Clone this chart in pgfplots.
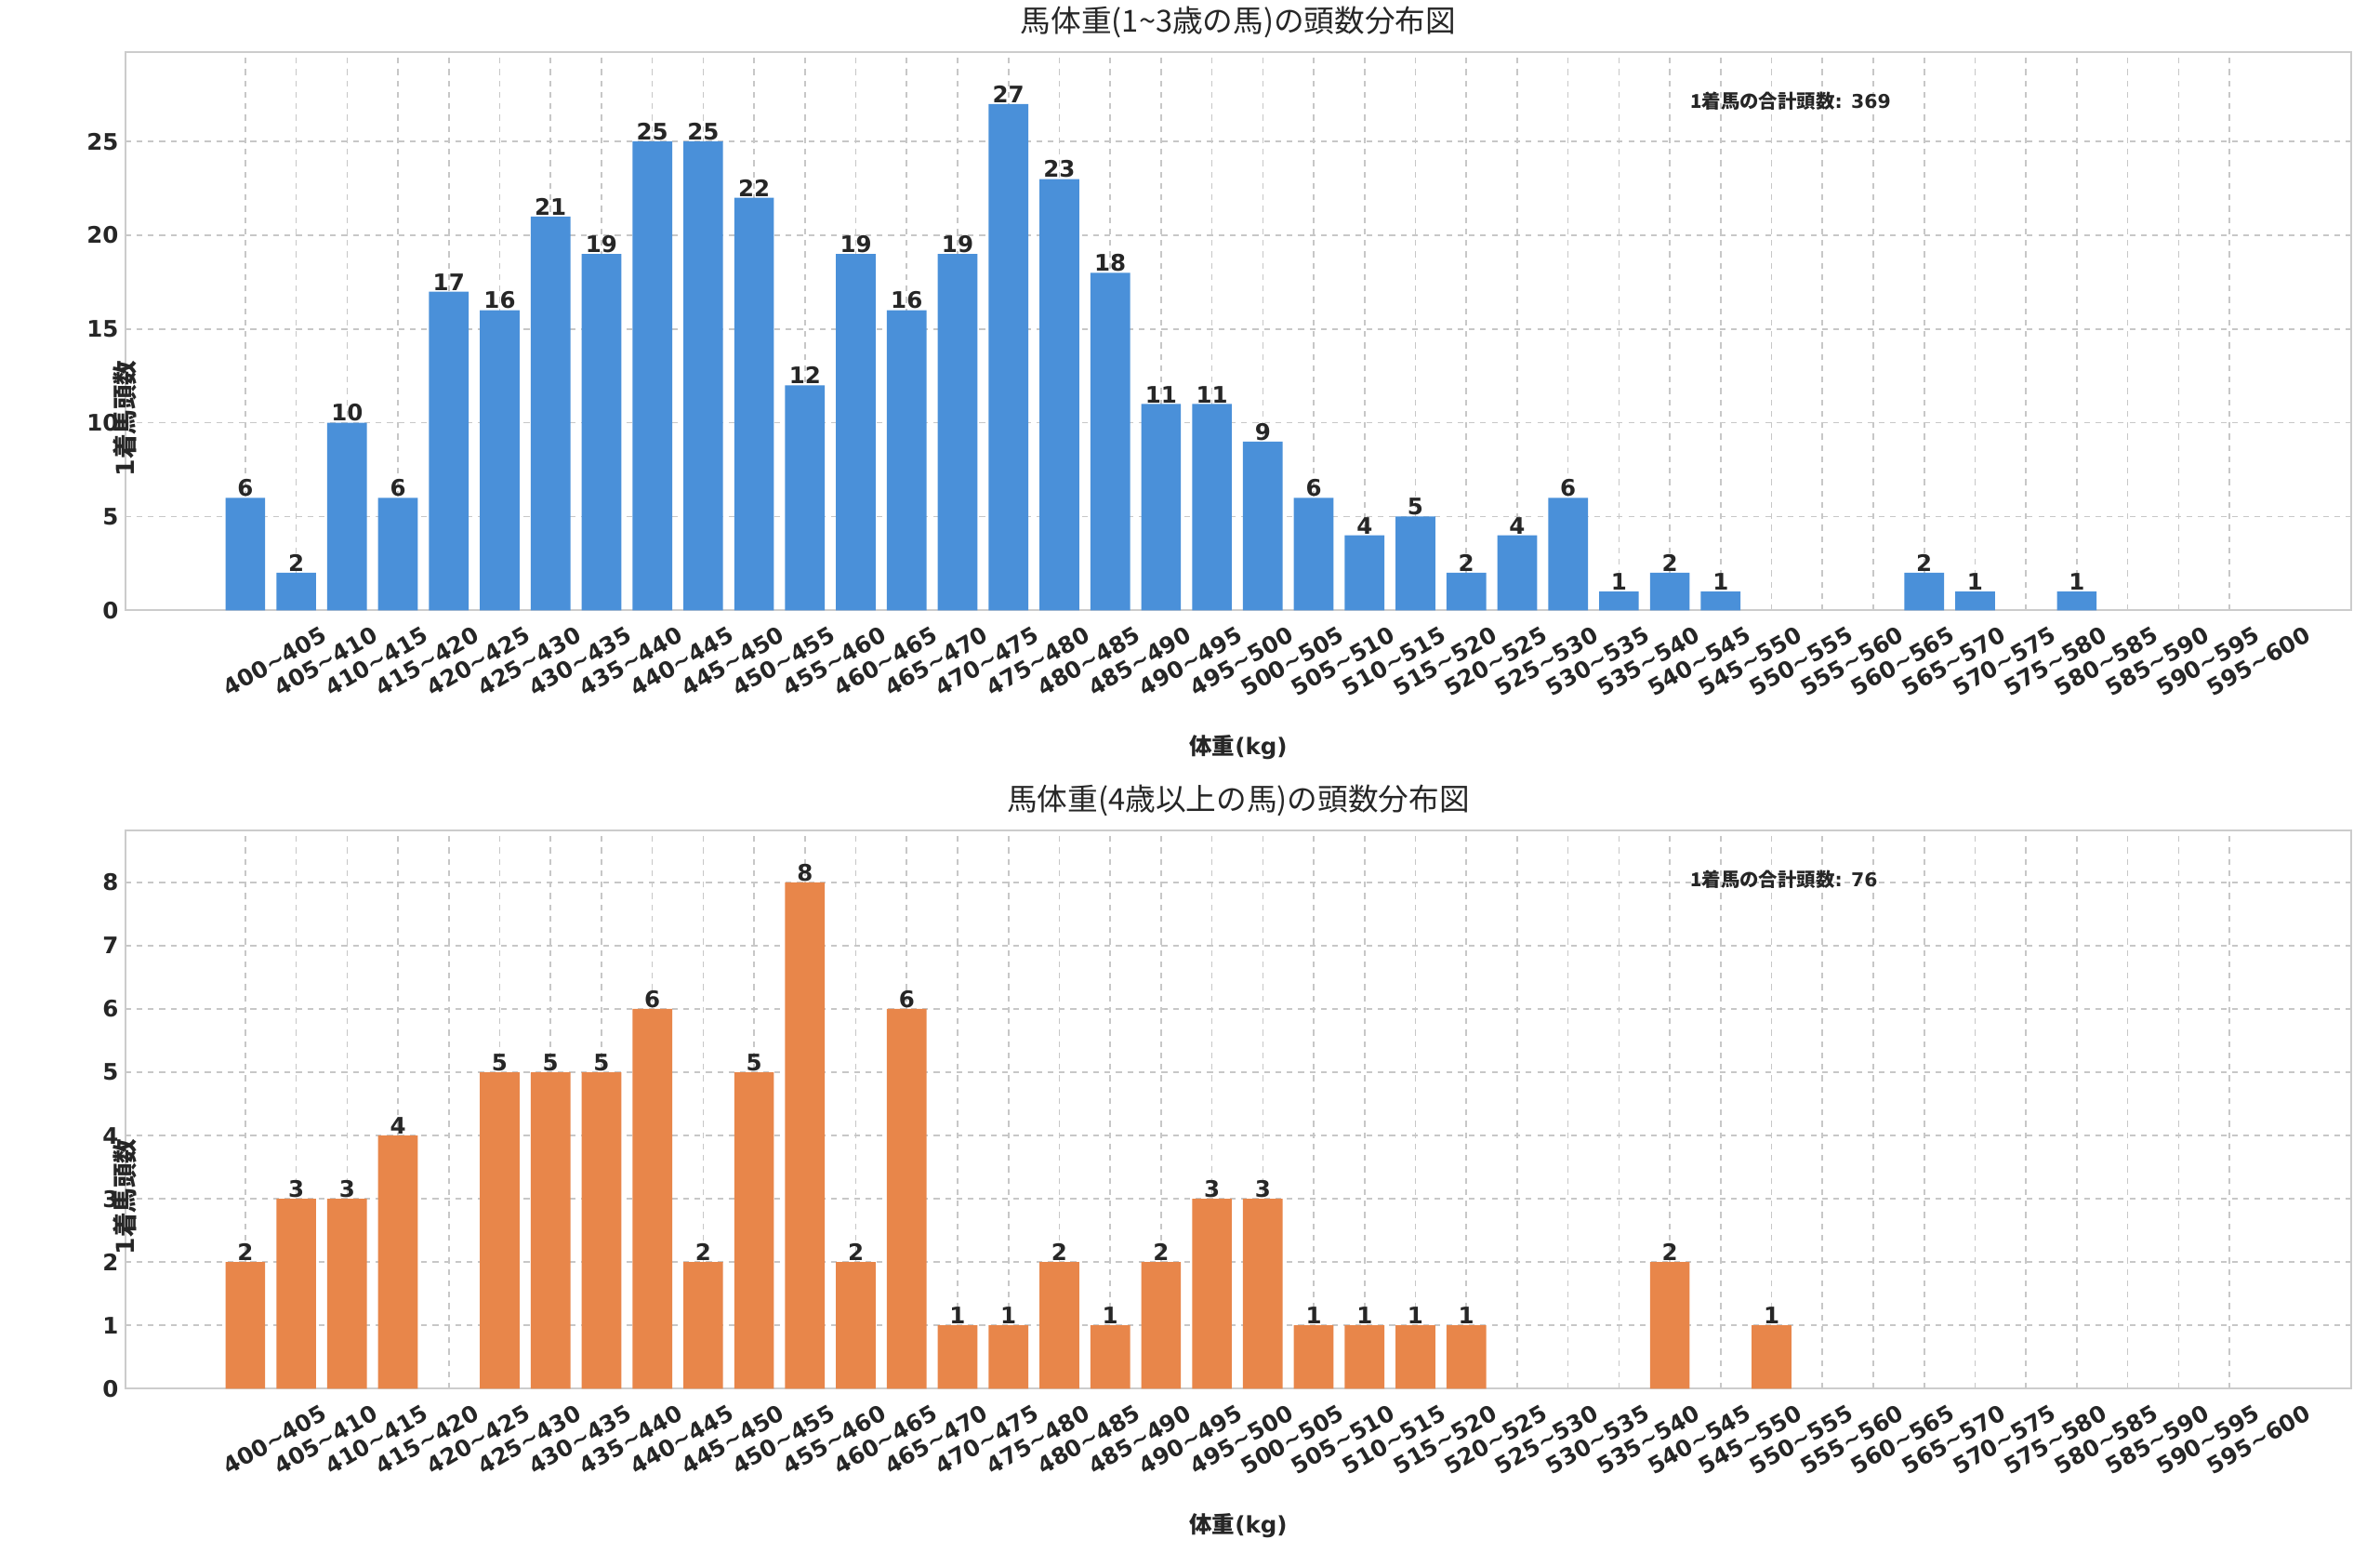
\documentclass[border=0pt]{standalone}
\usepackage{pgfplots}
\pgfplotsset{compat=1.18}
\usepackage{fontspec}
\setmainfont{DejaVu Sans}
\newfontfamily\cjk{Noto Sans CJK JP}
\definecolor{cblue}{HTML}{4A90D9}
\definecolor{corange}{HTML}{E8864A}
\definecolor{tx}{HTML}{262626}
\begin{document}
\begin{tikzpicture}
\pgfplotsset{
  common/.style={
    width=1173pt, height=294pt, scale only axis, clip=false,
    xmin=-2.36, xmax=41.4, ymin=0,
    xtick={0,...,39},
    xticklabels={400\~{}405,405\~{}410,410\~{}415,415\~{}420,420\~{}425,425\~{}430,430\~{}435,435\~{}440,440\~{}445,445\~{}450,450\~{}455,455\~{}460,460\~{}465,465\~{}470,470\~{}475,475\~{}480,480\~{}485,485\~{}490,490\~{}495,495\~{}500,500\~{}505,505\~{}510,510\~{}515,515\~{}520,520\~{}525,525\~{}530,530\~{}535,535\~{}540,540\~{}545,545\~{}550,550\~{}555,555\~{}560,560\~{}565,565\~{}570,570\~{}575,575\~{}580,580\~{}585,585\~{}590,590\~{}595,595\~{}600},
    xticklabel style={rotate=30, anchor=center, yshift=-31pt, font=\fontsize{12}{12}\selectfont\bfseries, text=tx, inner sep=0pt},
    yticklabel style={font=\fontsize{12}{12}\selectfont\bfseries, text=tx},
    /pgf/number format/assume math mode=true,
    axis line style={draw=black!20, line width=1pt},
    major tick length=0pt,
    grid=both, major grid style={dashed, black!22, line width=0.8pt},
    xlabel={{\cjk\bfseries 体重}\textbf{(kg)}},
    every axis x label/.style={at={(axis description cs:0.5,0)}, anchor=north, yshift=-62pt, font=\fontsize{12}{12}\selectfont, text=tx},
    every axis y label/.style={at={(axis description cs:0,0.5)}, rotate=90, anchor=center, xshift=-46pt, font=\fontsize{13}{13}\selectfont, text=tx},
    title style={font=\fontsize{16}{16}\selectfont, text=tx, yshift=-2pt},
    ybar, bar width=0.78,
    nodes near coords,
    nodes near coords style={font=\fontsize{12}{12}\selectfont\bfseries, text=tx, inner sep=0.5pt},
  }
}
\begin{axis}[common, ymax=29.77, ytick={0,5,...,25},
  title={\cjk 馬体重(1\~{}3歳の馬)の頭数分布図},
  ylabel={\textbf{1}{\cjk\bfseries 着馬頭数}}]
\addplot[fill=cblue, draw=none] coordinates {
(0,6)(1,2)(2,10)(3,6)(4,17)(5,16)(6,21)(7,19)(8,25)(9,25)
(10,22)(11,12)(12,19)(13,16)(14,19)(15,27)(16,23)(17,18)(18,11)(19,11)
(20,9)(21,6)(22,4)(23,5)(24,2)(25,4)(26,6)(27,1)(28,2)(29,1)
(33,2)(34,1)(36,1)};
\node[anchor=west, font=\fontsize{10}{10}\selectfont\bfseries, text=tx] at (rel axis cs:0.70,0.913) {{\cjk\bfseries 1着馬の合計頭数}: 369};
\path (rel axis cs:0,1) ++(-66pt,0pt) (rel axis cs:1,1) ++(15pt,0pt);
\end{axis}
\begin{axis}[common, at={(0,-410pt)}, ymax=8.82, ytick={0,...,8},
  title={\cjk 馬体重(4歳以上の馬)の頭数分布図},
  ylabel={\textbf{1}{\cjk\bfseries 着馬頭数}}]
\addplot[fill=corange, draw=none] coordinates {
(0,2)(1,3)(2,3)(3,4)(5,5)(6,5)(7,5)(8,6)(9,2)
(10,5)(11,8)(12,2)(13,6)(14,1)(15,1)(16,2)(17,1)(18,2)(19,3)
(20,3)(21,1)(22,1)(23,1)(24,1)(28,2)(30,1)};
\node[anchor=west, font=\fontsize{10}{10}\selectfont\bfseries, text=tx] at (rel axis cs:0.70,0.913) {{\cjk\bfseries 1着馬の合計頭数}: 76};
\path (rel axis cs:0,0) ++(0,-93pt);
\end{axis}
\end{tikzpicture}
\end{document}
